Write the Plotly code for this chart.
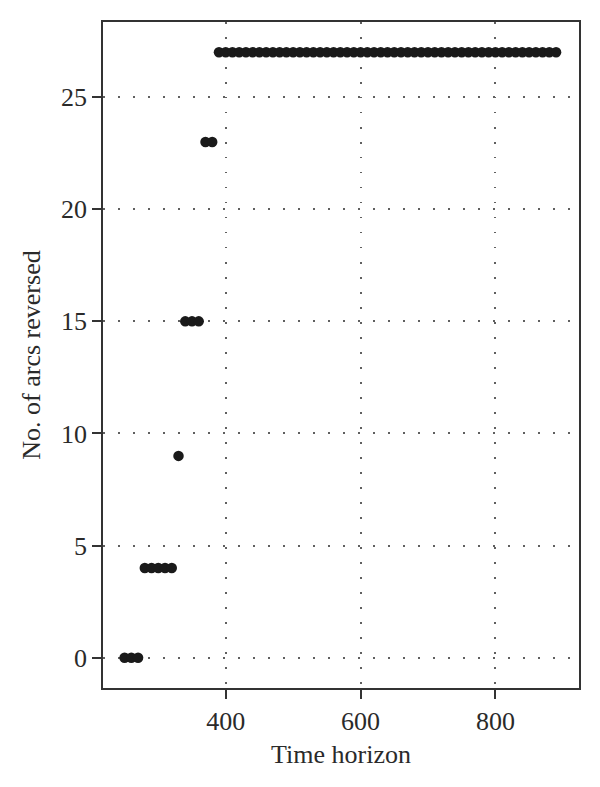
import plotly.graph_objects as go

# Data
time_horizon = [250, 260, 270,
                280, 290, 300, 310, 320,
                330,
                340, 350, 360,
                370, 380,
                390, 400, 410, 420, 430, 440, 450, 460, 470, 480,
                490, 500, 510, 520, 530, 540, 550, 560, 570, 580,
                590, 600, 610, 620, 630, 640, 650, 660, 670, 680,
                690, 700, 710, 720, 730, 740, 750, 760, 770, 780,
                790, 800, 810, 820, 830, 840, 850, 860, 870, 880,
                890]
arcs_reversed = [0, 0, 0,
                 4, 4, 4, 4, 4,
                 9,
                 15, 15, 15,
                 23, 23,
                 27, 27, 27, 27, 27, 27, 27, 27, 27, 27,
                 27, 27, 27, 27, 27, 27, 27, 27, 27, 27,
                 27, 27, 27, 27, 27, 27, 27, 27, 27, 27,
                 27, 27, 27, 27, 27, 27, 27, 27, 27, 27,
                 27, 27, 27, 27, 27, 27, 27, 27, 27, 27,
                 27]
x_ticks = [400, 600, 800]
y_ticks = [0, 5, 10, 15, 20, 25]

font = "Liberation Serif"

fig = go.Figure()
fig.add_trace(go.Scatter(
    x=time_horizon, y=arcs_reversed, mode="markers",
    marker=dict(size=10.5, color="#1a1a1a", line=dict(width=0)),
    showlegend=False,
))

axis_common = dict(
    showline=True, linecolor="#333333", linewidth=1.5, mirror=True,
    ticks="outside", ticklen=9, tickwidth=1.5, tickcolor="#333333",
    showgrid=True, gridcolor="#606060", gridwidth=1.5, griddash="1.5px,13.5px",
    zeroline=False,
    tickfont=dict(family=font, size=26, color="#2a2a2a"),
)

fig.update_xaxes(
    range=[218, 924], tickvals=x_ticks,
    title=dict(text="Time horizon", font=dict(family=font, size=26, color="#2a2a2a"), standoff=10),
    **axis_common,
)
fig.update_yaxes(
    range=[-1.35, 28.35], tickvals=y_ticks,
    title=dict(text="No. of arcs reversed", font=dict(family=font, size=26, color="#2a2a2a"), standoff=13),
    **axis_common,
)

fig.update_layout(
    width=600, height=787,
    margin=dict(l=95, r=29, t=14, b=107),
    paper_bgcolor="white", plot_bgcolor="white",
)

fig.write_html("out.html")
